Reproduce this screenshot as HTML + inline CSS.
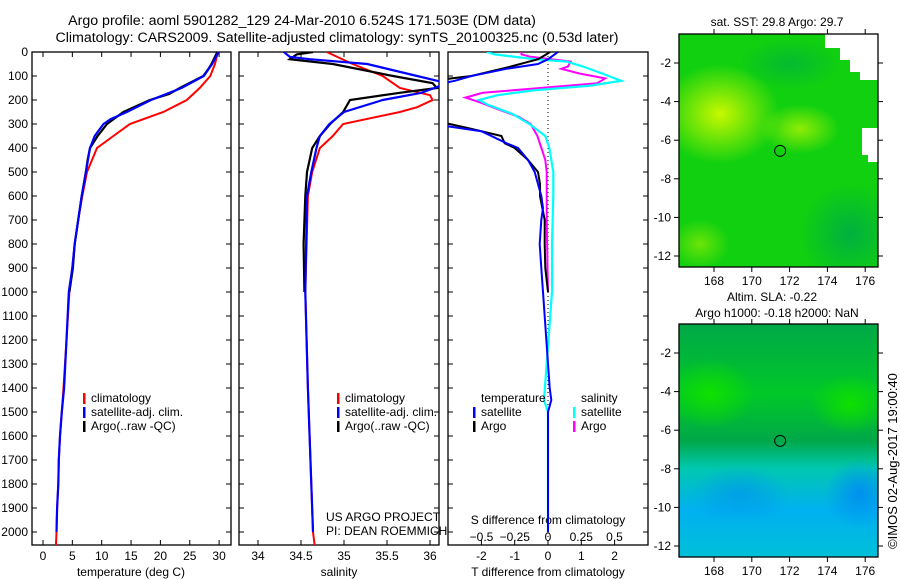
<!DOCTYPE html>
<html><head><meta charset="utf-8"><style>
body{margin:0;background:#fff;width:900px;height:580px;overflow:hidden}
svg{display:block;font-family:"Liberation Sans",sans-serif}
</style></head><body>
<svg id="s" width="900" height="580" viewBox="0 0 900 580">
<defs>
<clipPath id="c1"><rect x="32" y="52" width="199" height="493"/></clipPath>
<clipPath id="c2"><rect x="239" y="52" width="200" height="493"/></clipPath>
<clipPath id="c3"><rect x="448" y="52" width="200" height="493"/></clipPath>
<clipPath id="cm1"><rect x="679" y="34" width="199" height="233"/></clipPath>
<clipPath id="cm2"><rect x="679" y="324" width="199" height="233"/></clipPath>
<radialGradient id="y1" cx="0.5" cy="0.5" r="0.5"><stop offset="0" stop-color="#c8f800"/><stop offset="1" stop-color="#c8f800" stop-opacity="0"/></radialGradient>
<radialGradient id="dg" cx="0.5" cy="0.5" r="0.5"><stop offset="0" stop-color="#00b040"/><stop offset="1" stop-color="#00b040" stop-opacity="0"/></radialGradient>
<radialGradient id="bg" cx="0.5" cy="0.5" r="0.5"><stop offset="0" stop-color="#0090f0"/><stop offset="1" stop-color="#0090f0" stop-opacity="0"/></radialGradient>
<radialGradient id="lg" cx="0.5" cy="0.5" r="0.5"><stop offset="0" stop-color="#10e000"/><stop offset="1" stop-color="#10e000" stop-opacity="0"/></radialGradient>
<linearGradient id="m2" x1="0" y1="0" x2="0" y2="1">
<stop offset="0" stop-color="#00a848"/><stop offset="0.3" stop-color="#00c828"/><stop offset="0.5" stop-color="#00a848"/><stop offset="0.62" stop-color="#00c8b0"/><stop offset="0.8" stop-color="#00b0f0"/><stop offset="1" stop-color="#00c0d8"/></linearGradient>
</defs>
<g id="titles" font-size="14.2" fill="#000">
<text x="302" y="25" text-anchor="middle">Argo profile: aoml 5901282_129 24-Mar-2010 6.524S 171.503E (DM data)</text>
<text x="337" y="42" text-anchor="middle">Climatology: CARS2009. Satellite-adjusted climatology: synTS_20100325.nc (0.53d later)</text>
</g>
<g id="g"></g>
</svg>
<script>
// ---- data (depth in m) ----
const tempClimDepth=[0,50,100,150,200,250,300,350,400,500,600,700,800,900,1000,1200,1400,1500,1600,1700,1800,1900,2000,2060];
const tempClim=[29.8,29.3,28.5,26.7,24.5,20.5,14.8,12,9.2,7.5,6.7,6.0,5.4,5.0,4.5,4.0,3.5,3.2,2.9,2.7,2.6,2.4,2.3,2.2];
const tempSatDepth=[0,50,100,150,200,250,280,300,350,400,500,600,700,800,900,1000,1200,1400,1500,1600,1700,1800,1900,2000];
const tempSat=[29.9,28.8,27.4,23.6,18.4,14.3,11.5,10.3,8.8,8.0,7.3,6.6,6.0,5.4,5.0,4.4,4.0,3.6,3.2,2.9,2.7,2.6,2.4,2.3];
const tempArgoDepth=[0,50,70,100,150,175,200,250,300,350,400,450,500,600,700,800,900,1000];
const tempArgo=[29.7,28.7,28.2,27.3,23.3,21.5,18.2,13.7,10.9,9.3,8.0,7.6,7.3,6.6,6.0,5.4,5.1,4.5];
const salClimDepth=[0,50,100,150,180,200,230,250,300,350,400,500,600,1000,1400,1600,1800,2000,2060];
const salClim=[34.8,35.1,35.45,35.65,36.0,36.03,35.85,35.65,34.99,34.87,34.72,34.63,34.58,34.55,34.58,34.6,34.62,34.64,34.66];
const salSatDepth=[0,20,30,50,100,130,170,200,250,300,350,400,500,600,1000,1400,1600,1800,2000];
const salSat=[34.3,34.37,34.6,35.27,35.85,36.2,35.9,35.45,35.0,34.83,34.72,34.68,34.62,34.57,34.55,34.58,34.6,34.62,34.64];
const salArgoDepth=[0,10,30,50,100,130,150,170,200,250,300,350,400,500,600,800,1000];
const salArgo=[34.64,34.45,34.37,34.87,35.57,36.03,36.08,35.65,35.07,34.99,34.84,34.72,34.63,34.57,34.55,34.53,34.54];
const dTSatDepth=[0,30,50,70,100,120,140,300,310,330,380,400,450,500,550,600,650,700,800,900,1000,1400,1450,1500,2000];
const dTSat=[0.3,0.0,-0.3,-1.25,-2.3,-2.8,-3.5,-3.5,-3.0,-2.0,-1.25,-0.9,-0.6,-0.4,-0.3,-0.2,-0.15,-0.2,-0.25,-0.2,-0.15,0.05,0.1,0.0,0.0];
const dTArgoDepth=[0,10,30,60,80,100,120,290,296,320,350,380,400,450,500,550,600,700,800,900,1000];
const dTArgo=[0.06,-0.05,-0.3,-1.1,-1.7,-2.3,-3.5,-3.5,-3.1,-2.3,-1.4,-1.3,-1.0,-0.6,-0.3,-0.24,-0.24,-0.1,-0.1,-0.08,0.0];
const dSSatDepth=[0,10,30,40,60,90,120,140,160,180,200,220,260,300,350,400,500,600,800,1000,1450,1500,1550,2000];
const dSSat=[-0.46,-0.4,-0.1,0.14,0.26,0.41,0.55,0.32,-0.11,-0.38,-0.52,-0.45,-0.26,-0.14,-0.02,0.01,0.04,0.04,0.03,0.03,-0.03,0.0,0.0,0.0];
const dSArgoDepth=[0,10,20,40,60,70,90,110,130,150,170,190,210,240,270,300,350,400,450,500,700,1000];
const dSArgo=[-0.2,-0.2,-0.13,0.17,0.15,0.1,0.24,0.43,0.37,-0.06,-0.49,-0.62,-0.51,-0.37,-0.22,-0.13,-0.08,-0.05,-0.02,-0.01,-0.01,0.0];
const depthTicks=[0,100,200,300,400,500,600,700,800,900,1000,1100,1200,1300,1400,1500,1600,1700,1800,1900,2000];
const tempTicks=[0,5,10,15,20,25,30];
const salTicks=[34,34.5,35,35.5,36];
const dTTicks=[-2,-1,0,1,2];
const dSTicks=[-0.5,-0.25,0,0.25,0.5];
const latTicks=[-2,-4,-6,-8,-10,-12];
const lonTicks=[168,170,172,174,176];
const floatLon=[171.5];
const floatLat=[-6.55];

// ---- scales ----
const yD=d=>52+d*0.24;
const xT=t=>43+t*5.87;
const xS=s=>258+(s-34)*86;
const xDT=t=>548+t*33.3;
const xDS=s=>548+s*133;
const xLon=l=>714+(l-168)*18.9;
const yLat1=l=>63+(-2-l)*19.3;
const yLat2=l=>353+(-2-l)*19.3;

const NS='http://www.w3.org/2000/svg';
const G=document.getElementById('g');
function mk(tag,attrs,parent){const e=document.createElementNS(NS,tag);for(const k in attrs)e.setAttribute(k,attrs[k]);(parent||G).appendChild(e);return e;}
function line(xs,ys,xf,color,clip,w,name){
  const pts=xs.map((v,i)=>xf(v).toFixed(1)+','+yD(ys[i]).toFixed(1)).join(' ');
  const p=mk('polyline',{points:pts,fill:'none',stroke:color,'stroke-width':w||2,'clip-path':'url(#'+clip+')'});
  
  
}
function txt(x,y,s,anchor,size,parent){const t=mk('text',{x:x,y:y,'font-size':size||12,'text-anchor':anchor||'start',fill:'#000'},parent);t.textContent=s;return t;}

function frame(x,w,name){
  const r=mk('rect',{x:x,y:52,width:w,height:493,fill:'none',stroke:'#000','stroke-width':1.3});
  
  
  depthTicks.forEach(d=>{mk('line',{x1:x,x2:x+5,y1:yD(d),y2:yD(d),stroke:'#000'});mk('line',{x1:x+w-5,x2:x+w,y1:yD(d),y2:yD(d),stroke:'#000'});});
}
// panel 1
frame(32,199,'temperature-panel');
depthTicks.forEach(d=>{const t=txt(28,yD(d)+4,String(d),'end',12);});
tempTicks.forEach(v=>{mk('line',{x1:xT(v),x2:xT(v),y1:545,y2:540,stroke:'#000'});mk('line',{x1:xT(v),x2:xT(v),y1:52,y2:57,stroke:'#000'});const t=txt(xT(v),560,String(v),'middle');});
{const t=txt(131,576,'temperature (deg C)','middle');}
line(tempClim,tempClimDepth,xT,'#ff0000','c1',2,'temp-climatology-line');
line(tempArgo,tempArgoDepth,xT,'#000','c1',2.2,'temp-argo-line');
line(tempSat,tempSatDepth,xT,'#0000ff','c1',2.2,'temp-satellite-line');
// panel 2
frame(239,200,'salinity-panel');
salTicks.forEach(v=>{mk('line',{x1:xS(v),x2:xS(v),y1:545,y2:540,stroke:'#000'});mk('line',{x1:xS(v),x2:xS(v),y1:52,y2:57,stroke:'#000'});const t=txt(xS(v),560,String(v),'middle');});
{const t=txt(339,576,'salinity','middle');}
line(salClim,salClimDepth,xS,'#ff0000','c2',2,'sal-climatology-line');
line(salArgo,salArgoDepth,xS,'#000','c2',2.2,'sal-argo-line');
line(salSat,salSatDepth,xS,'#0000ff','c2',2.2,'sal-satellite-line');
// panel 3
frame(448,200,'difference-panel');
mk('line',{x1:548,x2:548,y1:52,y2:545,stroke:'#000','stroke-dasharray':'1,3'});
dTTicks.forEach(v=>{mk('line',{x1:xDT(v),x2:xDT(v),y1:545,y2:540,stroke:'#000'});const t=txt(xDT(v),560,String(v),'middle');});
dSTicks.forEach(v=>{const t=txt(xDS(v),541,String(v).replace('-','\u2212'),'middle');});
{const t=txt(548,576,'T difference from climatology','middle');}
{const t=txt(548,524,'S difference from climatology','middle');}
line(dSArgo,dSArgoDepth,xDS,'#ff00ff','c3',2,'sdiff-argo-line');
line(dSSat,dSSatDepth,xDS,'#00ffff','c3',2.2,'sdiff-satellite-line');
line(dTArgo,dTArgoDepth,xDT,'#000','c3',2,'tdiff-argo-line');
line(dTSat,dTSatDepth,xDT,'#0000ff','c3',2,'tdiff-satellite-line');
// legends
function leg(x,y,c,s,name){const r=mk('rect',{x:x,y:y-9,width:2.5,height:11,fill:c});const t=txt(x+8,y,s);}
leg(83,402,'#ff0000','climatology','legend-climatology');
leg(83,416,'#0000ff','satellite-adj. clim.','legend-satellite');
leg(83,430,'#000','Argo(..raw -QC)','legend-argo');
leg(337,402,'#ff0000','climatology','legend-climatology-2');
leg(337,416,'#0000ff','satellite-adj. clim.','legend-satellite-2');
leg(337,430,'#000','Argo(..raw -QC)','legend-argo-2');
{const t=txt(481,402,'temperature');}
{const t=txt(581,402,'salinity');}
leg(473,416,'#0000ff','satellite','legend-t-satellite');
leg(473,430,'#000','Argo','legend-t-argo');
leg(573,416,'#00ffff','satellite','legend-s-satellite');
leg(573,430,'#ff00ff','Argo','legend-s-argo');
{const t=txt(326,521,'US ARGO PROJECT');}
{const t=txt(326,535,'PI: DEAN ROEMMICH');}

// ---- maps ----
function map(y0,yLat,top,name,clip){
  const g=mk('g',{});
  
  
  const f=mk('g',{'clip-path':'url(#'+clip+')'},g);
  if(top){
    mk('rect',{x:679,y:y0,width:199,height:233,fill:'#10d010'},f);
    mk('ellipse',{cx:720,cy:y0+80,rx:60,ry:50,fill:'url(#y1)'},f);
    mk('ellipse',{cx:800,cy:y0+95,rx:40,ry:25,fill:'url(#y1)','opacity':0.7},f);
    mk('ellipse',{cx:700,cy:y0+210,rx:30,ry:25,fill:'url(#y1)','opacity':0.5},f);
    mk('ellipse',{cx:850,cy:y0+200,rx:50,ry:50,fill:'url(#dg)'},f);
    mk('ellipse',{cx:790,cy:y0+30,rx:50,ry:25,fill:'url(#dg)','opacity':0.7},f);
    mk('path',{d:'M825 34 H878 V80 H860 V72 H850 V60 H840 V48 H825 Z',fill:'#fff'},f);
    mk('path',{d:'M862 128 H878 V162 H868 V155 H862 Z',fill:'#fff'},f);
  } else {
    mk('rect',{x:679,y:y0,width:199,height:233,fill:'url(#m2)'},f);
    mk('ellipse',{cx:710,cy:y0+70,rx:45,ry:35,fill:'url(#lg)'},f);
    mk('ellipse',{cx:850,cy:y0+80,rx:40,ry:30,fill:'url(#lg)'},f);
    mk('ellipse',{cx:860,cy:y0+170,rx:35,ry:35,fill:'url(#bg)'},f);
    mk('ellipse',{cx:740,cy:y0+170,rx:50,ry:30,fill:'url(#bg)','opacity':0.6},f);
  }
  mk('rect',{x:679,y:y0,width:199,height:233,fill:'none',stroke:'#000','stroke-width':1.3},g);
  latTicks.forEach(l=>{mk('line',{x1:679,x2:674,y1:yLat(l),y2:yLat(l),stroke:'#000'},g);mk('line',{x1:878,x2:883,y1:yLat(l),y2:yLat(l),stroke:'#000'},g);const t=txt(671,yLat(l)+4,String(l),'end');});
  lonTicks.forEach(l=>{mk('line',{x1:xLon(l),x2:xLon(l),y1:y0,y2:y0-5,stroke:'#000'},g);mk('line',{x1:xLon(l),x2:xLon(l),y1:y0+233,y2:y0+238,stroke:'#000'},g);const t=txt(xLon(l),y0+251,String(l),'middle');});
  floatLon.forEach((lo,i)=>{const c=mk('circle',{cx:xLon(lo),cy:yLat(floatLat[i]),r:5.5,fill:'none',stroke:'#000'},g);});
}
map(34,yLat1,true,'sst-map','cm1');
map(324,yLat2,false,'sla-map','cm2');
{const t=txt(777,26,'sat. SST: 29.8 Argo: 29.7','middle');}
{const t=txt(772,301,'Altim. SLA: -0.22','middle');}
{const t=txt(777,317,'Argo h1000: -0.18 h2000: NaN','middle');}
{const t=txt(0,0,'\u00A9IMOS 02-Aug-2017 19:00:40','middle',13);t.setAttribute('transform','translate(897,461) rotate(-90)');}
</script>
</body></html>
